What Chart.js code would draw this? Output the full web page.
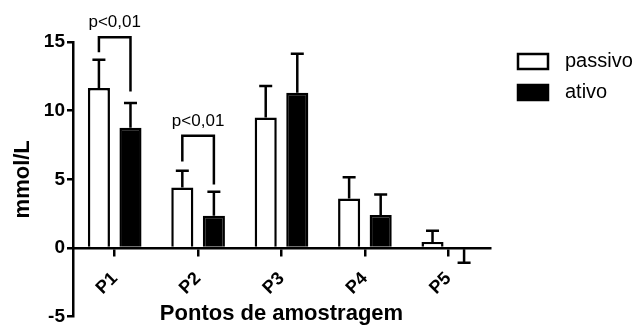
<!DOCTYPE html>
<html>
<head>
<meta charset="utf-8">
<script src="https://cdn.jsdelivr.net/npm/chart.js@4.4.1/dist/chart.umd.min.js"></script>
<style>
  html, body { margin: 0; padding: 0; background: #fff; }
</style>
</head>
<body>
<canvas id="chart" width="642" height="330"></canvas>
<script>
const categories = ['P1', 'P2', 'P3', 'P4', 'P5'];
const passivo = [11.65, 4.4, 9.5, 3.6, 0.43];
const ativo = [8.75, 2.35, 11.3, 2.4, -0.1];
const passivoErr = [2.05, 1.23, 2.3, 1.55, 0.82];
const ativoErr = [1.8, 1.75, 2.85, 1.5, 0.98];

// significance brackets, in mmol/L: bracket top, left leg end, right leg end
const brackets = [
  { cat: 0, top: 15.35, left: 14.25, right: 11.4, label: 'p<0,01' },
  { cat: 1, top: 8.18, left: 6.3, right: 4.63, label: 'p<0,01' }
];

const FONT = '"Liberation Sans", Arial, sans-serif';

const errorBars = {
  id: 'errorBars',
  afterDatasetsDraw(chart) {
    const ctx = chart.ctx;
    const y = chart.scales.y;
    ctx.save();
    ctx.strokeStyle = '#000';
    ctx.lineWidth = 2.5;
    chart.data.datasets.forEach((ds, di) => {
      chart.getDatasetMeta(di).data.forEach((bar, i) => {
        const v = ds.data[i];
        const end = y.getPixelForValue(v + (v < 0 ? -1 : 1) * ds.errors[i]);
        ctx.beginPath();
        ctx.moveTo(bar.x, bar.y);
        ctx.lineTo(bar.x, end);
        ctx.moveTo(bar.x - 6.5, end);
        ctx.lineTo(bar.x + 6.5, end);
        ctx.stroke();
      });
    });
    ctx.restore();
  }
};

const sigBrackets = {
  id: 'sigBrackets',
  afterDraw(chart) {
    const ctx = chart.ctx;
    const y = chart.scales.y;
    const a = chart.getDatasetMeta(0).data;
    const b = chart.getDatasetMeta(1).data;
    ctx.save();
    ctx.strokeStyle = '#000';
    ctx.lineWidth = 2.5;
    ctx.fillStyle = '#000';
    ctx.font = '17px ' + FONT;
    ctx.textAlign = 'center';
    ctx.textBaseline = 'alphabetic';
    brackets.forEach(br => {
      const x1 = a[br.cat].x, x2 = b[br.cat].x;
      const top = y.getPixelForValue(br.top);
      ctx.beginPath();
      ctx.moveTo(x1, y.getPixelForValue(br.left));
      ctx.lineTo(x1, top);
      ctx.lineTo(x2, top);
      ctx.lineTo(x2, y.getPixelForValue(br.right));
      ctx.stroke();
      ctx.fillText(br.label, (x1 + x2) / 2, top - 10);
    });
    ctx.restore();
  }
};

const sideLegend = {
  id: 'sideLegend',
  afterDraw(chart) {
    const ctx = chart.ctx;
    ctx.save();
    ctx.font = '20px ' + FONT;
    ctx.textBaseline = 'middle';
    chart.data.datasets.forEach((ds, i) => {
      const top = 54 + i * 31;
      ctx.fillStyle = ds.backgroundColor;
      ctx.fillRect(518, top, 30, 15);
      ctx.strokeStyle = '#000';
      ctx.lineWidth = 2.5;
      ctx.strokeRect(518, top, 30, 15);
      ctx.fillStyle = '#000';
      ctx.fillText(ds.label, 565, top + 7);
    });
    ctx.restore();
  }
};

new Chart(document.getElementById('chart'), {
  type: 'bar',
  data: {
    labels: categories,
    datasets: [{
      label: 'passivo',
      data: passivo,
      errors: passivoErr,
      backgroundColor: '#fff',
      borderColor: '#000',
      borderWidth: 2.5
    }, {
      label: 'ativo',
      data: ativo,
      errors: ativoErr,
      backgroundColor: '#000',
      borderColor: '#000',
      borderWidth: 2.5
    }]
  },
  options: {
    responsive: false,
    animation: false,
    categoryPercentage: 0.757,
    barPercentage: 0.7,
    layout: {
      padding: { top: 42, right: 152, bottom: 10, left: 0 }
    },
    plugins: {
      legend: { display: false },
      tooltip: { enabled: false }
    },
    scales: {
      x: {
        position: { y: 0 },
        offset: true,
        grid: {
          offset: false,
          drawOnChartArea: false,
          tickLength: 7,
          color: '#000',
          lineWidth: 2.5
        },
        border: { color: '#000', width: 2.5 },
        ticks: {
          color: '#000',
          minRotation: 45,
          maxRotation: 45,
          padding: 13,
          font: { family: FONT, size: 18, weight: 'bold' }
        },
        title: {
          display: true,
          text: 'Pontos de amostragem',
          color: '#000',
          padding: { top: -11, bottom: 0 },
          font: { family: FONT, size: 22, weight: 'bold' }
        }
      },
      y: {
        min: -5,
        max: 15,
        ticks: {
          stepSize: 5,
          color: '#000',
          padding: 2,
          font: { family: FONT, size: 19, weight: 'bold' }
        },
        grid: {
          drawOnChartArea: false,
          tickLength: 6,
          color: '#000',
          lineWidth: 2.5
        },
        border: { color: '#000', width: 2.5 },
        title: {
          display: true,
          text: 'mmol/L',
          color: '#000',
          padding: { top: 10, bottom: 0 },
          font: { family: FONT, size: 22, weight: 'bold' }
        },
        afterFit(scale) { scale.width = 73; }
      }
    }
  },
  plugins: [errorBars, sigBrackets, sideLegend]
});
</script>
</body>
</html>
